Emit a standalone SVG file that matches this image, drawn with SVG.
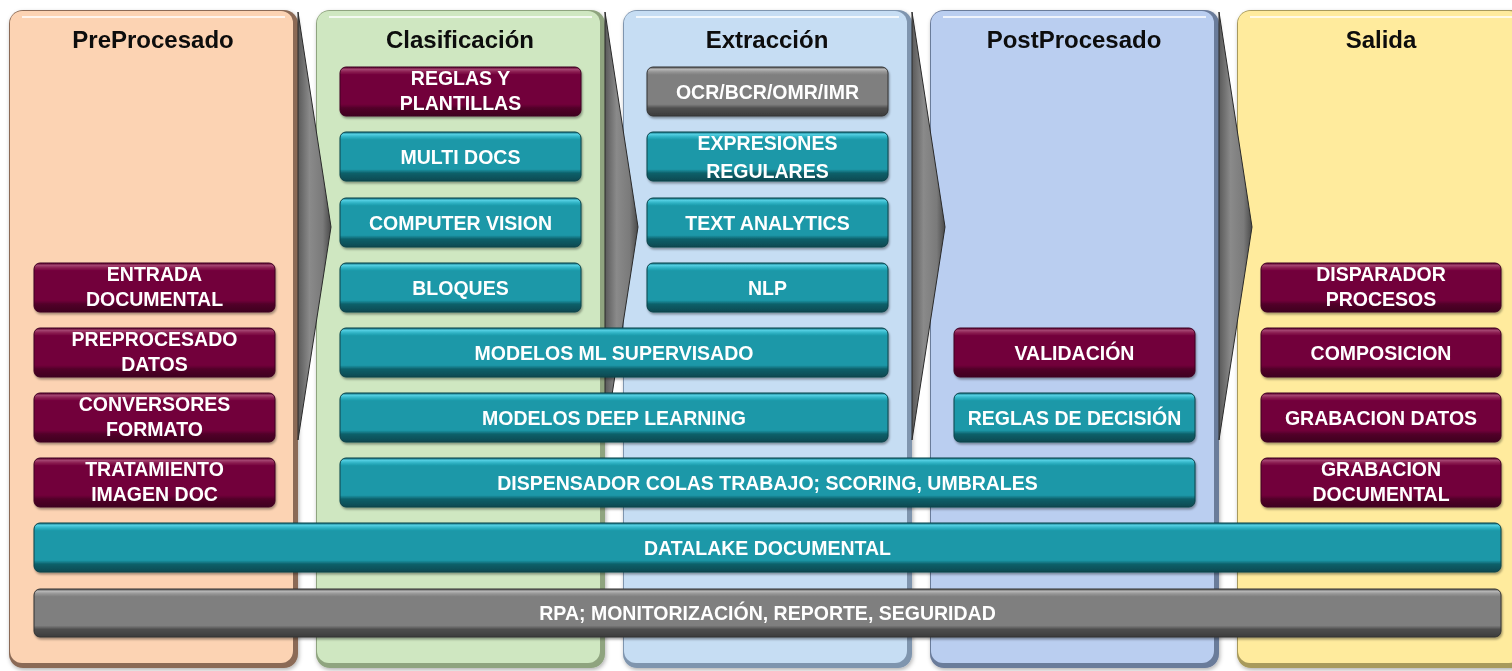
<svg xmlns="http://www.w3.org/2000/svg" width="1512" height="671" viewBox="0 0 1512 671">
<defs>
<style>
.title{font-family:"Liberation Sans",Arial,sans-serif;font-weight:bold;font-size:24px;fill:#0a0a0a;text-anchor:middle}
.lbl{font-family:"Liberation Sans",Arial,sans-serif;font-weight:bold;font-size:19.5px;fill:#ffffff;text-anchor:middle}
.m{fill:url(#gM);stroke:#3e0020;stroke-width:1}
.t{fill:url(#gT);stroke:#0a4048;stroke-width:1}
.g{fill:url(#gG);stroke:#333333;stroke-width:1}
.box{filter:url(#sh)}
.hl{fill:none;stroke:#ffffff;stroke-opacity:0.75;stroke-width:2}
</style>
<filter id="sh" x="-5%" y="-20%" width="110%" height="150%">
<feDropShadow dx="1" dy="2" stdDeviation="1.2" flood-color="#000" flood-opacity="0.35"/>
</filter>
<filter id="psh" x="-5%" y="-5%" width="110%" height="110%">
<feDropShadow dx="1" dy="2" stdDeviation="2" flood-color="#000" flood-opacity="0.3"/>
</filter>
<linearGradient id="gM" x1="0" y1="0" x2="0" y2="1">
<stop offset="0" stop-color="#5c002d"/>
<stop offset="0.05" stop-color="#a3436f"/>
<stop offset="0.1" stop-color="#8a1d50"/>
<stop offset="0.16" stop-color="#72003a"/>
<stop offset="0.76" stop-color="#72003a"/>
<stop offset="0.84" stop-color="#520029"/>
<stop offset="1" stop-color="#3e001f"/>
</linearGradient>
<linearGradient id="gT" x1="0" y1="0" x2="0" y2="1">
<stop offset="0" stop-color="#137786"/>
<stop offset="0.05" stop-color="#52cde0"/>
<stop offset="0.1" stop-color="#2fb2c4"/>
<stop offset="0.16" stop-color="#1b98a8"/>
<stop offset="0.76" stop-color="#1b98a8"/>
<stop offset="0.84" stop-color="#0f5f69"/>
<stop offset="1" stop-color="#0a4a52"/>
</linearGradient>
<linearGradient id="gG" x1="0" y1="0" x2="0" y2="1">
<stop offset="0" stop-color="#5a5a5a"/>
<stop offset="0.05" stop-color="#b5b5b5"/>
<stop offset="0.1" stop-color="#959595"/>
<stop offset="0.16" stop-color="#7f7f7f"/>
<stop offset="0.76" stop-color="#7f7f7f"/>
<stop offset="0.84" stop-color="#4e4e4e"/>
<stop offset="1" stop-color="#3c3c3c"/>
</linearGradient>
<linearGradient id="gA" x1="0" y1="0" x2="1" y2="0">
<stop offset="0" stop-color="#5a5a5a"/>
<stop offset="0.35" stop-color="#8a8a8a"/>
<stop offset="0.75" stop-color="#7a7a7a"/>
<stop offset="1" stop-color="#4a4a4a"/>
</linearGradient>
</defs>

<g id="panels">
<g id="panel-preprocesado" filter="url(#psh)">
<rect x="9" y="10" width="289" height="658" rx="14" fill="#8b6b57"/>
<rect x="10" y="11" width="283" height="652" rx="12" fill="#fcd3b3"/>
<path class="hl" d="M22 17 H285"/>
<text class="title" x="153" y="48">PreProcesado</text>
</g>
<g id="panel-clasificacion" filter="url(#psh)">
<rect x="316" y="10" width="289" height="658" rx="14" fill="#8fa47f"/>
<rect x="317" y="11" width="283" height="652" rx="12" fill="#cfe7c1"/>
<path class="hl" d="M329 17 H592"/>
<text class="title" x="460" y="48">Clasificación</text>
</g>
<g id="panel-extraccion" filter="url(#psh)">
<rect x="623" y="10" width="289" height="658" rx="14" fill="#7f95ae"/>
<rect x="624" y="11" width="283" height="652" rx="12" fill="#c6ddf3"/>
<path class="hl" d="M636 17 H899"/>
<text class="title" x="767" y="48">Extracción</text>
</g>
<g id="panel-postprocesado" filter="url(#psh)">
<rect x="930" y="10" width="289" height="658" rx="14" fill="#6b7b9a"/>
<rect x="931" y="11" width="283" height="652" rx="12" fill="#bacef0"/>
<path class="hl" d="M943 17 H1206"/>
<text class="title" x="1074" y="48">PostProcesado</text>
</g>
<g id="panel-salida" filter="url(#psh)">
<rect x="1237" y="10" width="289" height="658" rx="14" fill="#a89a5c"/>
<rect x="1238" y="11" width="283" height="652" rx="12" fill="#ffeb9d"/>
<path class="hl" d="M1250 17 H1520"/>
<text class="title" x="1381" y="48">Salida</text>
</g>
</g>

<g id="connectors">
<polygon points="298,12 331,227 298,440" fill="url(#gA)" stroke="#2a2a2a" stroke-width="1"/>
<polygon points="605,12 638,227 605,440" fill="url(#gA)" stroke="#2a2a2a" stroke-width="1"/>
<polygon points="912,12 945,227 912,440" fill="url(#gA)" stroke="#2a2a2a" stroke-width="1"/>
<polygon points="1219,12 1252,227 1219,440" fill="url(#gA)" stroke="#2a2a2a" stroke-width="1"/>
</g>

<g id="n-entrada" class="box"><rect class="m" x="34" y="263" width="241" height="49" rx="6"/><text class="lbl" x="154.5" y="281">ENTRADA</text><text class="lbl" x="154.5" y="306">DOCUMENTAL</text></g>
<g id="n-preprocesado" class="box"><rect class="m" x="34" y="328" width="241" height="49" rx="6"/><text class="lbl" x="154.5" y="346">PREPROCESADO</text><text class="lbl" x="154.5" y="371">DATOS</text></g>
<g id="n-conversores" class="box"><rect class="m" x="34" y="393" width="241" height="49" rx="6"/><text class="lbl" x="154.5" y="411">CONVERSORES</text><text class="lbl" x="154.5" y="436">FORMATO</text></g>
<g id="n-tratamiento" class="box"><rect class="m" x="34" y="458" width="241" height="49" rx="6"/><text class="lbl" x="154.5" y="476">TRATAMIENTO</text><text class="lbl" x="154.5" y="501">IMAGEN DOC</text></g>

<g id="n-reglas" class="box"><rect class="m" x="340" y="67" width="241" height="49" rx="6"/><text class="lbl" x="460.5" y="85">REGLAS Y</text><text class="lbl" x="460.5" y="110">PLANTILLAS</text></g>
<g id="n-multidocs" class="box"><rect class="t" x="340" y="132" width="241" height="49" rx="6"/><text class="lbl" x="460.5" y="164">MULTI DOCS</text></g>
<g id="n-cv" class="box"><rect class="t" x="340" y="198" width="241" height="49" rx="6"/><text class="lbl" x="460.5" y="230">COMPUTER VISION</text></g>
<g id="n-bloques" class="box"><rect class="t" x="340" y="263" width="241" height="49" rx="6"/><text class="lbl" x="460.5" y="295">BLOQUES</text></g>
<g id="n-ml" class="box"><rect class="t" x="340" y="328" width="548" height="49" rx="6"/><text class="lbl" x="614" y="360">MODELOS ML SUPERVISADO</text></g>
<g id="n-dl" class="box"><rect class="t" x="340" y="393" width="548" height="49" rx="6"/><text class="lbl" x="614" y="425">MODELOS DEEP LEARNING</text></g>
<g id="n-dispensador" class="box"><rect class="t" x="340" y="458" width="855" height="49" rx="6"/><text class="lbl" x="767.5" y="490">DISPENSADOR COLAS TRABAJO; SCORING, UMBRALES</text></g>

<g id="n-ocr" class="box"><rect class="g" x="647" y="67" width="241" height="49" rx="6"/><text class="lbl" x="767.5" y="99">OCR/BCR/OMR/IMR</text></g>
<g id="n-expresiones" class="box"><rect class="t" x="647" y="132" width="241" height="49" rx="6"/><text class="lbl" x="767.5" y="150">EXPRESIONES</text><text class="lbl" x="767.5" y="178">REGULARES</text></g>
<g id="n-text" class="box"><rect class="t" x="647" y="198" width="241" height="49" rx="6"/><text class="lbl" x="767.5" y="230">TEXT ANALYTICS</text></g>
<g id="n-nlp" class="box"><rect class="t" x="647" y="263" width="241" height="49" rx="6"/><text class="lbl" x="767.5" y="295">NLP</text></g>

<g id="n-validacion" class="box"><rect class="m" x="954" y="328" width="241" height="49" rx="6"/><text class="lbl" x="1074.5" y="360">VALIDACIÓN</text></g>
<g id="n-decision" class="box"><rect class="t" x="954" y="393" width="241" height="49" rx="6"/><text class="lbl" x="1074.5" y="425">REGLAS DE DECISIÓN</text></g>

<g id="n-disparador" class="box"><rect class="m" x="1261" y="263" width="240" height="49" rx="6"/><text class="lbl" x="1381" y="281">DISPARADOR</text><text class="lbl" x="1381" y="306">PROCESOS</text></g>
<g id="n-composicion" class="box"><rect class="m" x="1261" y="328" width="240" height="49" rx="6"/><text class="lbl" x="1381" y="360">COMPOSICION</text></g>
<g id="n-grabdatos" class="box"><rect class="m" x="1261" y="393" width="240" height="49" rx="6"/><text class="lbl" x="1381" y="425">GRABACION DATOS</text></g>
<g id="n-grabdoc" class="box"><rect class="m" x="1261" y="458" width="240" height="49" rx="6"/><text class="lbl" x="1381" y="476">GRABACION</text><text class="lbl" x="1381" y="501">DOCUMENTAL</text></g>

<g id="n-datalake" class="box"><rect class="t" x="34" y="523" width="1467" height="49" rx="6"/><text class="lbl" x="767.5" y="555">DATALAKE DOCUMENTAL</text></g>
<g id="n-rpa" class="box"><rect class="g" x="34" y="589" width="1467" height="48" rx="6"/><text class="lbl" x="767.5" y="620">RPA; MONITORIZACIÓN, REPORTE, SEGURIDAD</text></g>
</svg>
